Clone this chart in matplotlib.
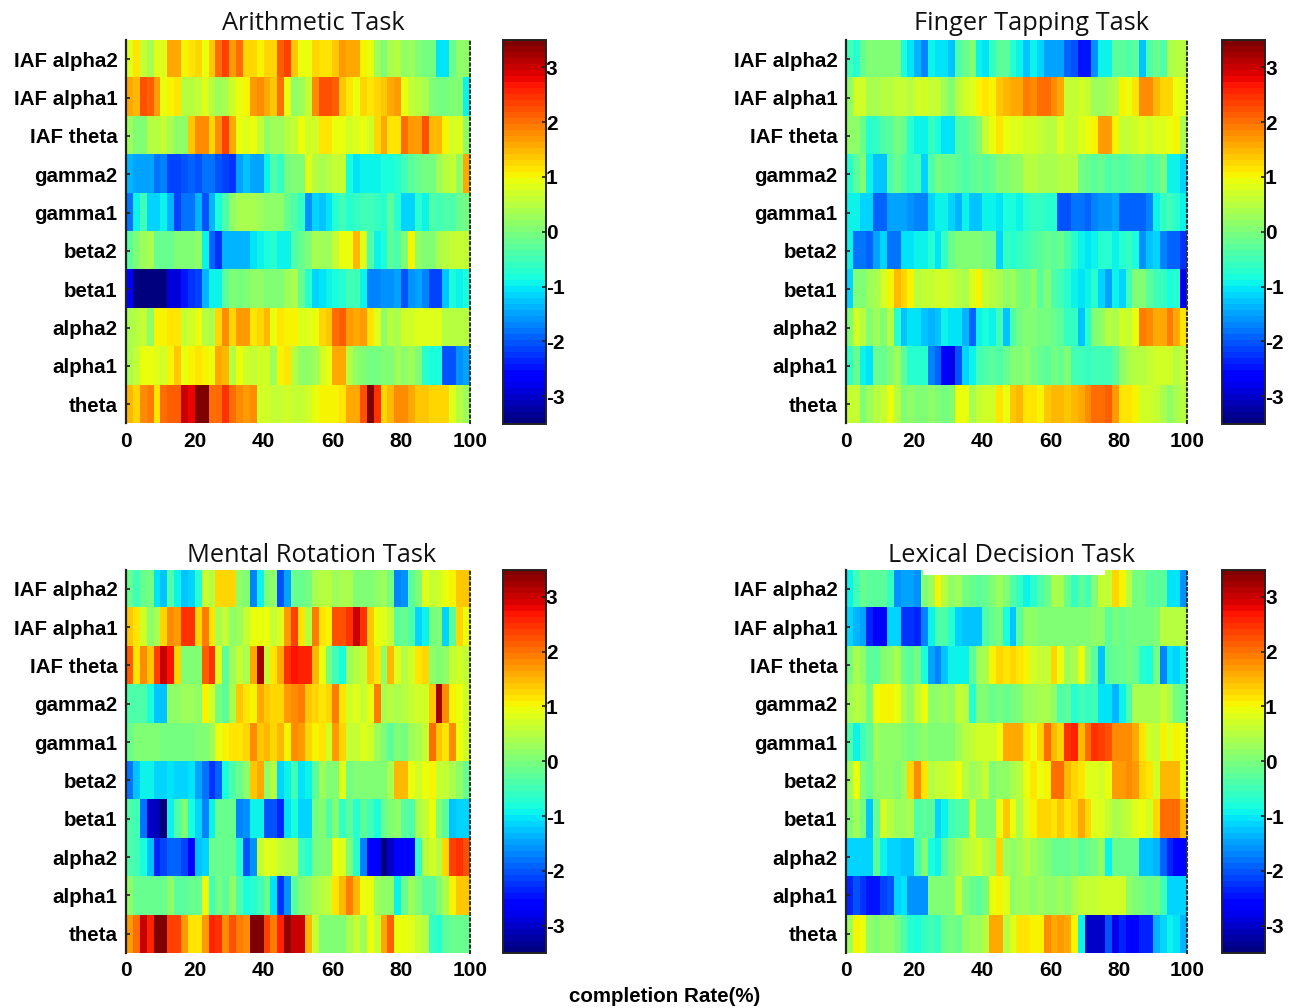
import numpy as np
import matplotlib
matplotlib.use("Agg")
import matplotlib.pyplot as plt
from matplotlib.patches import Rectangle

bands = ["IAF alpha2", "IAF alpha1", "IAF theta", "gamma2", "gamma1", "beta2", "beta1", "alpha2", "alpha1", "theta"]
xticks = [0, 20, 40, 60, 80, 100]
cticks = [-3, -2, -1, 0, 1, 2, 3]

arithmetic = [
 [.8,1.1,.6,.4,.8,.8,1.6,1.6,1.0,1.2,1.3,.9,1.4,2.0,2.4,1.7,2.0,1.3,1.3,1.0,1.3,1.3,2.1,2.4,1.4,.9,.9,1.3,1.2,1.1,1.4,1.7,1.6,1.6,1.0,.9,.3,.1,.4,.5,.2,.3,.1,-.1,-.1,-1.0,-1.0,-.2,.2,.2],
 [1.6,1.5,2.2,2.1,1.7,.9,1.0,1.1,.5,.5,.6,.8,.5,.3,.4,.7,.9,1.0,1.7,1.8,1.6,1.4,2.0,.9,.2,.3,.6,1.8,2.2,2.2,2.1,1.4,1.1,.9,1.3,1.2,1.3,1.4,1.6,1.7,.9,.6,.5,.4,.1,-.1,-.1,0,.1,-.9],
 [.3,.1,.1,.5,.5,.6,.4,.2,.2,1.4,1.8,1.8,1.3,1.8,2.4,1.6,.9,.8,.9,.6,.2,.3,.3,.5,.6,.9,.7,.7,1.2,1.2,.9,.9,.7,.8,.9,.7,1.3,1.6,1.1,1.1,2.0,1.7,1.7,2.2,1.5,1.5,1.0,.7,.8,.2],
 [-1.4,-1.5,-1.5,-1.5,-1.8,-1.7,-2.1,-2.1,-2.0,-1.9,-2.0,-1.8,-1.8,-2.0,-2.1,-2.2,-1.5,-1.3,-1.5,-1.5,-.9,-.4,-.6,-.1,0,0,.8,.5,.4,.5,.6,.6,-.8,-1.0,-.9,-.9,-.9,-.8,-.8,-.7,-.5,-.3,-.2,-.1,-.1,.3,.5,.6,.2,1.6],
 [-1.8,-.9,-.5,-1.1,-1.2,-.9,-1.4,-2.1,-1.8,-1.8,-1.4,-2.0,-1.4,-.8,-.4,.2,.4,.4,.4,.3,.2,.2,.2,-.2,-.4,-.6,-1.6,-1.2,-1.3,-1.0,-.7,-.5,-.7,-.6,-.5,-.5,-.6,-.7,-.3,-.7,-1.2,-1.1,-.7,-.9,-.4,-.5,-.4,-.4,-.2,-.1],
 [-.3,.0,.3,.4,-.2,-.2,-.2,.1,.1,.1,.2,-.9,-1.9,-2.2,-1.4,-1.4,-1.4,-1.4,-1.0,-.9,-.8,-.7,-.9,-.9,-.4,-.2,.1,.4,.3,.3,.6,.9,.9,1.5,.8,-.4,-.9,-.8,-.3,-.4,.1,1.0,.2,0,.1,.4,.5,.6,.6,.6],
 [-2.7,-3.5,-3.5,-3.5,-3.5,-3.5,-2.9,-2.9,-2.5,-2.2,-2.1,-1.4,-.9,-.9,-.3,0,-.1,.1,.2,.2,0,.1,.1,.3,.4,-.2,-.7,-1.2,-1.0,-.9,-.8,-.7,-.5,-.5,-.9,-1.7,-1.7,-1.6,-1.6,-1.5,-2.0,-1.6,-1.5,-1.7,-2.1,-2.1,-1.3,-.8,-.9,-.8],
 [.4,.5,.6,.2,1.0,1.0,1.2,1.1,.6,.7,.9,.5,.4,1.3,1.8,1.3,1.7,1.7,1.1,1.3,1.5,.9,1.1,1.0,1.0,.8,.8,.9,1.3,1.4,2.0,2.1,1.7,1.6,1.7,1.2,.8,.2,.5,.4,.7,.7,.8,.8,.8,.8,.5,.5,.5,.5],
 [.4,.6,.9,.9,.8,.7,1.0,1.4,.9,1.0,1.2,1.0,.9,1.6,1.5,.5,.9,.7,.6,.7,.7,.3,1.0,1.2,.5,.2,.2,.3,.7,.9,1.6,1.6,.5,.2,.1,-.1,-.1,.0,.1,.3,.2,.3,0,-.7,-.8,-.8,-2.0,-2.0,-1.6,-1.5],
 [1.5,1.3,1.8,1.9,1.2,2.0,2.1,2.1,3.0,2.8,3.4,3.4,2.0,2.0,2.5,2.0,1.8,1.7,1.8,.7,.7,.6,.6,.7,.6,.6,.7,.9,1.0,1.0,1.0,1.1,1.6,1.6,2.2,3.4,2.5,1.3,1.5,1.8,1.8,1.6,1.4,1.4,1.3,1.3,1.3,.8,.5,.3],
]

finger = [
 [-.5,-.7,-.2,.1,0,0,0,0,-.8,-1.0,-1.4,-1.7,-.9,-1.0,-1.0,-1.3,-.4,-.2,.0,-.9,-1.0,-.6,-.3,-.3,-.7,-.9,-1.3,-.9,-1.1,-1.5,-1.5,-1.5,-1.9,-2.0,-2.5,-2.5,-1.6,-.9,-.9,-.3,-.3,-.4,-.3,-1.3,-.4,-.2,-.4,.4,.5,.5],
 [.2,.7,.7,.4,.4,.5,.5,.6,.6,.5,.7,.7,.6,.6,.3,.1,.5,.7,.8,1.0,1.2,1.0,1.4,1.5,1.6,1.6,1.9,1.8,2.0,2.0,1.8,1.6,.6,.6,.7,.6,.3,.3,.4,.5,1.0,.9,1.2,1.8,1.8,1.5,1.3,1.3,.9,.8],
 [.2,.2,-.2,-.7,-.6,-.4,-.3,-.1,-.2,-.7,-.9,-.9,-.6,-.8,-1.0,-1.0,-.4,-.4,-.2,.1,.6,.9,1.1,.9,.8,.8,.7,.7,.6,.5,.5,.8,.6,.6,.8,.9,1.0,1.7,1.7,1.0,.6,.6,.7,.8,.7,.8,.8,.9,1.0,.4],
 [-.7,-.3,.0,-.9,-1.3,-1.3,-.4,-.2,-.4,-.6,-.5,-1.2,-.4,-.1,-.2,-.2,-.3,-.4,-.3,-.2,-.3,-.2,.0,.1,.2,.2,.5,.5,.4,.4,.4,.5,.5,.5,-.1,-.2,-.3,-.2,-.4,-.3,-.4,-.3,-.2,-.2,-.4,-.3,-.1,-.9,-.9,-1.2],
 [-.9,-.9,-1.2,-1.2,-1.9,-1.9,-1.5,-1.5,-1.5,-1.6,-1.7,-1.7,-1.1,-.9,-.9,-1.2,-1.4,-.9,-1.3,-1.3,-.9,-.9,-1.0,-.8,-.8,-.9,-.7,-.6,-.6,-.7,-.7,-2.0,-2.0,-1.8,-1.8,-1.9,-1.7,-1.6,-1.6,-1.5,-1.9,-1.9,-1.9,-1.9,-1.7,-.9,-.6,-.5,-.7,-.9],
 [-.9,-1.8,-1.8,-1.9,-1.5,-1.1,-1.8,-1.8,-1.0,-1.0,-.9,-.9,-.7,-1.0,-.6,-.2,0,0,.0,.0,-.1,-.1,-1.2,-.6,-.7,-.6,-.5,-.4,-.3,-.2,-.3,-.2,-.4,-.7,-.9,-1.0,-.9,-.7,-.7,-.9,-.7,-.6,-.8,-1.6,-1.3,-1.1,-1.7,-1.9,-1.9,-2.2],
 [-1.1,.0,.1,.3,.4,.7,1.0,1.5,1.3,1.0,.5,.6,.6,.7,.7,.6,.5,.4,.8,1.0,.6,.5,.4,.2,.3,.1,-.1,.2,-.3,0,-.4,-.5,-.7,-.9,-1.0,-.9,-.7,-1.2,-1.5,-.9,-1.1,-.5,0,.1,-.3,-.5,-.6,-.8,-.7,-2.8],
 [.1,.7,.5,.1,.3,.1,.5,-.7,-1.3,-1.0,-1.0,-1.3,-1.4,-1.3,-.9,-1.0,-1.0,-1.4,-1.9,-.9,-.8,-.9,-.5,-1.3,-.4,-.1,.1,.0,-.1,-.1,-.2,-.3,-.6,-.6,-1.3,-.7,.0,.2,.5,.4,.7,.6,.9,1.9,1.8,1.6,1.6,1.9,1.6,1.1],
 [-.6,-.2,-.9,-1.0,-.2,-.2,.1,.3,-.3,-.7,-.7,-.7,-1.7,-1.9,-2.7,-2.8,-2.0,-1.2,-.9,-.5,-.4,-.3,-.4,-.2,.1,.1,.2,-.1,-.2,-.3,-.1,-.2,.0,-.5,-.5,-.6,-.5,-.5,-.5,-.3,.2,.4,.5,.5,.6,.7,.7,.7,.5,.6],
 [.6,.6,.0,.3,.5,.6,.9,.5,.1,.2,.1,.1,.2,.0,-.1,.1,.9,.9,.4,.6,.7,.7,1.2,.9,1.4,1.5,1.2,1.1,1.0,1.4,1.5,1.5,1.4,1.5,1.6,1.8,2.0,2.0,2.1,1.7,1.1,1.2,1.0,.7,.7,.6,.4,.2,.4,.5],
]

mental = [
 [-.2,-.5,-.2,-.1,-1.0,-1.3,-.4,-.9,-1.3,-1.2,-.7,.6,.5,1.3,1.3,1.3,.2,.1,-1.7,-.9,.0,.2,-2.0,-1.5,-.2,-.2,-.1,.4,.5,.5,.3,.4,.4,.1,.0,.1,.2,.3,-.1,-1.7,-1.6,-.3,.1,.8,.6,.7,.9,1.0,1.4,1.4],
 [1.4,1.2,.7,.2,.4,1.3,1.8,1.7,2.5,2.5,1.3,1.9,1.2,.4,.6,.2,.3,.6,.9,.9,.9,.6,.8,1.7,2.3,1.2,.5,1.9,1.1,1.0,2.2,2.2,2.5,3.0,2.5,1.4,.9,.8,.6,-.3,-.2,-.4,-1.2,-.9,-.1,.1,-1.1,-.3,1.3,.9],
 [2.1,1.2,1.8,1.4,2.4,3.0,2.7,1.3,0,0,.0,2.1,2.5,.8,-.3,.3,.6,.4,1.6,3.2,.6,1.2,1.6,2.5,2.7,2.6,2.6,1.5,.9,-.1,-.5,-.8,.3,.5,.6,1.4,1.2,.2,1.5,.8,.5,.7,1.2,1.3,.2,.1,.2,.6,.7,.6],
 [-.4,-.4,-.4,-.8,-1.3,-1.3,.2,.2,.3,.3,.2,1.0,.7,-.1,-.3,.4,1.4,1.2,1.0,1.6,1.4,1.3,1.3,1.7,1.8,1.9,1.4,1.3,1.2,1.3,1.9,1.2,.7,.8,.6,.9,1.9,.4,.5,.4,.5,.6,.7,.7,1.4,3.2,1.8,1.0,.9,.7],
 [-.2,.0,.0,.0,.1,-.1,-.1,-.1,-.1,-.1,.1,.0,.3,.9,1.0,1.1,1.2,1.3,1.8,1.4,1.5,1.3,1.5,1.0,1.8,1.7,1.3,1.0,1.2,.7,1.7,1.3,.6,.6,.8,.7,.3,.0,-.3,.1,-.1,.3,.4,.6,2.0,1.4,1.1,1.8,.9,.7],
 [-1.8,-1.3,-.9,-.9,-1.1,-1.1,-1.0,-1.1,-1.1,-1.0,-1.5,-1.8,-2.2,-1.9,-.8,-.4,-.2,.2,1.4,1.6,.2,.5,-1.1,-.9,-.5,-1.0,-.9,-.3,.3,.1,.1,.8,-.1,.1,.1,.1,.1,.1,.4,1.5,1.5,.9,.7,.9,1.0,.6,.6,.4,.2,-.2],
 [-.4,-.5,-1.8,-3.0,-3.1,-3.5,-.9,-.4,.1,-.8,-1.2,-1.7,-.9,-.2,-.2,-.2,-1.7,-1.6,-.9,-.9,-2.0,-2.0,-2.4,-1.0,-.8,-1.2,-1.2,-.1,.1,-.4,.0,-.6,-.3,-.7,-.3,-.5,-.8,-.2,.1,.2,-.3,-.4,.4,.6,.9,.1,-.3,-1.3,-1.2,-1.2],
 [-.4,-.5,-.8,-1.3,-2.4,-2.1,-1.9,-1.9,-2.1,-2.6,-1.3,-1.2,-.2,-.2,-.2,-.2,-.7,-2.0,-1.6,.6,.8,.8,.6,.5,.5,-.5,-.7,-.1,.1,.0,.9,.8,.0,-.7,-1.7,-2.6,-2.7,-3.4,-3.0,-2.6,-2.6,-2.6,-.6,.5,.7,.5,1.3,2.3,2.5,2.2],
 [.2,-.2,-.2,-.2,-.2,-.2,.2,-.3,-.3,-.2,-.2,.9,-.5,-.1,-.3,.2,-.4,-.8,-.7,-.5,-.2,-1.0,-2.2,-1.6,-.3,.0,.2,.4,.5,.6,1.2,1.5,1.9,1.5,.9,.9,.3,.2,.2,-.9,-.2,.3,.1,-.3,-.3,.1,.4,1.0,1.4,1.4],
 [1.7,2.0,3.0,2.6,3.4,3.5,2.4,2.3,1.7,1.2,1.2,1.7,2.6,2.5,1.8,2.2,1.9,1.8,3.4,3.4,2.3,1.9,2.6,3.3,3.0,3.0,1.5,.6,.0,.0,.0,.1,.4,.6,.3,.9,.6,1.6,2.1,.9,.9,.8,.6,.5,-.6,-.7,-.3,-.2,-.2,-.2],
]

lexical = [
 [-.9,-.5,-.2,-.3,-.3,-.3,-.6,-1.6,-1.5,-1.5,-1.6,.1,.3,1.0,.5,.2,.3,-.1,-.2,-.3,-.2,.0,.3,.0,-.4,-.6,-.9,-.7,-.4,-.2,.4,.4,-.2,-.6,-.3,-.5,.0,.6,.6,1.3,1.0,.5,-.1,-.1,-.3,-.3,-.3,-1.0,-1.0,-1.6],
 [-1.2,-1.4,-1.5,-2.4,-2.7,-2.7,-1.2,-1.1,-2.2,-2.2,-2.4,-1.7,-.9,-.4,-.4,-.7,-1.1,-1.3,-1.3,-1.3,-.4,-.2,-.1,-.8,-1.3,-.3,.2,.2,.1,.0,.1,.1,.1,.1,.1,.1,.2,.2,-.3,-.1,-.2,-.1,-.1,-.1,-.1,.0,.5,.5,.5,.5],
 [-.1,.4,.2,-.3,-.3,.1,.2,.4,-.2,-.3,-.1,-.8,-1.5,-1.7,-1.3,-.9,-.9,-.9,-.3,.3,.4,1.0,1.3,1.2,1.3,1.2,1.0,.7,.6,.6,1.3,.9,.3,.4,.9,.2,-.3,-1.3,-.3,-.2,-.2,-.1,-.2,-.7,-.8,-.1,-1.7,-1.0,-1.1,-.9],
 [.3,.5,.4,-.1,.9,1.0,1.0,.9,.4,.2,.6,.9,.2,.2,.3,.2,.6,.5,-.7,.0,.0,-.2,-.1,-.2,-.1,.1,.3,.3,.4,.4,.2,-.4,-.3,-.7,-.5,-.6,-.5,-1.0,-1.0,-1.4,-.9,-.4,.4,.4,.4,.4,.6,.4,-.1,-.2],
 [-.4,-.9,-.5,-.3,.3,.2,.2,.2,.0,-.1,.1,.2,.1,.1,.1,.1,.3,.5,.6,.7,.7,.7,.9,1.6,1.6,1.6,1.1,.9,1.3,2.0,1.5,1.3,2.5,2.6,1.5,2.0,2.5,2.3,2.2,1.8,1.8,1.8,1.6,1.1,.7,.6,1.0,.8,1.0,.9],
 [.3,.9,.1,-.2,.2,.2,.2,.1,.3,1.3,1.8,1.2,.5,.6,.6,.7,.9,.5,.3,.4,.6,.1,.2,.2,.4,.5,.9,1.2,.9,1.0,2.0,2.0,1.5,1.3,1.1,.8,.8,.7,.9,1.7,1.7,1.8,1.7,1.3,1.1,.7,1.5,1.5,1.5,.9],
 [.0,.3,-.1,-1.3,-.2,.7,.5,.3,.3,.4,-.4,-.3,-.3,-1.2,-.9,-.5,-.4,-.4,.7,.1,.0,.0,.9,1.4,.9,.4,.8,1.0,1.3,1.3,1.2,1.4,1.1,1.3,1.6,1.3,.8,.8,.6,.4,.5,.6,.8,.9,.7,1.3,2.0,2.0,2.0,1.5],
 [-1.2,-1.2,-1.2,-1.1,-.3,-.9,-1.2,-1.2,-1.3,-1.3,-.5,.1,-.8,-.9,-.3,.1,.3,.5,.6,.7,.5,.3,1.3,.3,.2,.3,.5,.3,.2,.1,-.2,-.2,-.2,-.1,-.3,-.2,-.1,.2,-.9,-.2,-.2,-.2,-.2,-1.3,-1.3,-1.4,-1.9,-2.4,-2.6,-2.7],
 [-2.4,-2.0,-2.2,-2.5,-2.5,-2.1,-2.0,-1.2,-1.0,-1.6,-1.6,-1.6,.0,.0,.1,.0,.6,.0,-.2,-.3,-.1,.9,1.0,.8,.2,.3,.3,.2,.3,.2,.2,.3,.2,.4,.6,.6,.6,.7,.7,.7,.7,.2,.1,-.1,-.2,-.1,-.5,-1.2,-1.2,-1.2],
 [.3,1.0,.9,.2,.1,.2,.2,-.1,-.4,-.7,-.8,-.6,-.5,-.6,-.2,-.1,-.2,.2,.3,.3,.5,1.6,1.6,.5,.8,1.2,1.2,1.0,1.0,1.8,1.6,1.7,1.6,1.0,-.9,-3.0,-3.0,-3.0,-2.0,-2.8,-2.3,-2.6,-2.6,-2.3,-2.3,-1.4,-1.1,-.9,-1.0,-1.4],
]

panels = [
 ("Arithmetic Task", arithmetic, 126, 40, 344, 383.5, 503, 313, 24),
 ("Finger Tapping Task", finger, 846, 40, 341, 383.5, 1222, 1032, 24),
 ("Mental Rotation Task", mental, 126, 569.5, 344, 383.5, 503, 312, 556),
 ("Lexical Decision Task", lexical, 846, 569.5, 341, 383.5, 1222, 1012, 556),
]

W, H = 1296, 1008
fig = plt.figure(figsize=(W / 100, H / 100), dpi=100, facecolor="white")
cmap = plt.get_cmap("jet", 64)
BOLD = dict(family="Liberation Sans", fontweight="bold")
vmin, vmax = -3.5, 3.5


def box(x0, y0, w, h):
    return [x0 / W, 1 - (y0 + h) / H, w / W, h / H]


for title, data, ax_x, ax_y, ax_w, ax_h, cb_x, title_x, title_y in panels:
    arr = np.array(data)
    ax = fig.add_axes(box(ax_x, ax_y, ax_w, ax_h))
    im = ax.imshow(arr, cmap=cmap, vmin=vmin, vmax=vmax, aspect="auto",
                   interpolation="nearest", extent=[0, 100, len(bands) - .5, -.5])
    ax.set_yticks(np.arange(len(bands)))
    ax.set_yticklabels(bands, fontsize=14.8, **BOLD)
    ax.set_xticks(xticks)
    ax.set_xticklabels([str(t) for t in xticks], fontsize=15, **BOLD)
    ax.tick_params(axis="y", direction="in", length=3, width=1.2, pad=6, color="#222222")
    ax.tick_params(axis="x", length=0, pad=6)
    for s in ("top", "bottom"):
        ax.spines[s].set_visible(False)
    ax.spines["left"].set_linewidth(1.6)
    ax.spines["left"].set_color("#222222")
    ax.spines["right"].set_linestyle((0, (1, 1.6)))
    ax.spines["right"].set_linewidth(1.5)
    ax.spines["right"].set_color("#333333")
    fig.text(title_x / W, 1 - title_y / H, title, ha="center", va="center",
             fontsize=18.3, family="Open Sans", color="#111111")
    if title.startswith("Lexical"):
        ax.add_patch(Rectangle((22.5, -.5), 53.5, .14, facecolor="white", edgecolor="none", zorder=3))

    cax = fig.add_axes(box(cb_x, ax_y, 43, ax_h))
    cb = fig.colorbar(im, cax=cax)
    cb.set_ticks(cticks)
    cb.set_ticklabels([str(t) for t in cticks], fontsize=15, **BOLD)
    cax.tick_params(axis="y", direction="in", length=3, width=1.2, pad=0, color="#222222")
    cb.outline.set_linewidth(1.4)
    cb.outline.set_edgecolor("#222222")

fig.text(665 / W, 1 - 996 / H, "completion Rate(%)", ha="center", va="center", fontsize=14.8, **BOLD)
fig.savefig("out.png", dpi=100, facecolor="white")
